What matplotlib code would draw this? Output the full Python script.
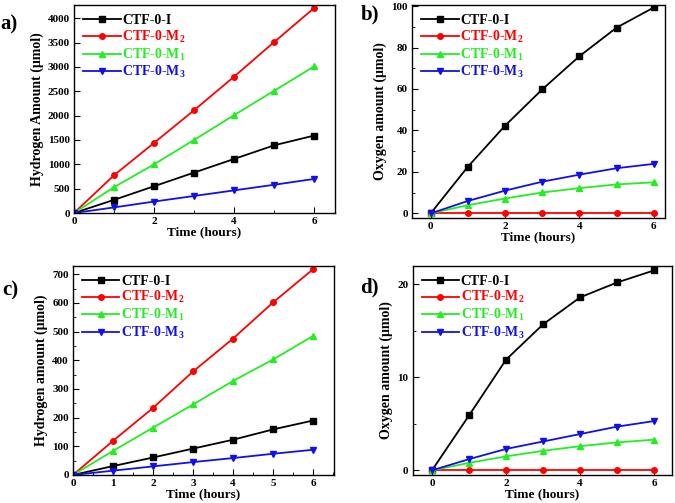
import matplotlib
matplotlib.use("Agg")
import matplotlib.pyplot as plt
from matplotlib.ticker import MultipleLocator

plt.rcParams['font.family'] = ['Liberation Serif', 'DejaVu Serif']
plt.rcParams['font.weight'] = 'bold'
plt.rcParams['mathtext.fontset'] = 'custom'
plt.rcParams['mathtext.rm'] = 'Liberation Serif:bold'
plt.rcParams['mathtext.it'] = 'Liberation Serif:bold'
plt.rcParams['mathtext.bf'] = 'Liberation Serif:bold'

# data
hours = [0, 1, 2, 3, 4, 5, 6]
names = ["CTF-0-I", "CTF-0-M$_2$", "CTF-0-M$_1$", "CTF-0-M$_3$"]

a_I = [0, 270, 550, 830, 1110, 1390, 1590]
a_M2 = [0, 775, 1440, 2110, 2800, 3510, 4210]
a_M1 = [0, 530, 1000, 1500, 2010, 2510, 3010]
a_M3 = [0, 115, 235, 350, 465, 580, 700]

b_I = [0, 22.5, 42.3, 59.8, 75.8, 89.6, 99.3]
b_M2 = [0, 0, 0, 0, 0, 0, 0]
b_M1 = [0, 4.0, 7.2, 10.1, 12.2, 14.0, 15.0]
b_M3 = [0, 6.0, 11.0, 15.3, 18.7, 21.8, 23.9]

c_I = [0, 31, 61, 92, 123, 159, 190]
c_M2 = [0, 119, 234, 361, 476, 602, 718]
c_M1 = [0, 84, 165, 246, 328, 403, 485]
c_M3 = [0, 15, 30, 45, 59, 74, 88]

d_I = [0, 5.9, 11.9, 15.7, 18.6, 20.2, 21.5]
d_M2 = [0, 0, 0, 0, 0, 0, 0]
d_M1 = [0, 0.8, 1.5, 2.1, 2.6, 3.0, 3.3]
d_M3 = [0, 1.2, 2.3, 3.1, 3.9, 4.7, 5.3]

colors = ["black", "#ff0000", "#22ee22", "#1010ee"]
markers = ["s", "o", "^", "v"]

fig = plt.figure(figsize=(6.75, 5.03), dpi=100)

panels = [
    ([0.1096, 0.5765, 0.3867, 0.4135], [a_I, a_M2, a_M1, a_M3], "Hydrogen Amount (\u03bcmol)",
     (0, 6.52), (0, 4270), 2, 1, 500, None),
    ([0.6104, 0.5666, 0.3748, 0.4235], [b_I, b_M2, b_M1, b_M3], "Oxygen amount (\u03bcmol)",
     (-0.5, 6.3), (-2.2, 100.5), 2, None, 20, 10),
    ([0.1081, 0.0557, 0.3867, 0.4161], [c_I, c_M2, c_M1, c_M3], "Hydrogen amount (\u03bcmol)",
     (0, 6.52), (0, 730), 1, 0.5, 100, 50),
    ([0.6114, 0.0557, 0.3837, 0.4161], [d_I, d_M2, d_M1, d_M3], "Oxygen amount (\u03bcmol)",
     (-0.52, 6.47), (-0.5, 22.0), 2, None, 10, 5),
]

for rect, series, ylab, xl, yl, xmaj, xmin, ymaj, ymin in panels:
    ax = fig.add_axes(rect)
    for s, name, c, m in zip(series, names, colors, markers):
        ax.plot(hours, s, color=c, marker=m, markersize=4, lw=1.3, label=name)
    ax.set_xlim(*xl)
    ax.set_ylim(*yl)
    ax.xaxis.set_major_locator(MultipleLocator(xmaj))
    if xmin:
        ax.xaxis.set_minor_locator(MultipleLocator(xmin))
    ax.yaxis.set_major_locator(MultipleLocator(ymaj))
    if ymin:
        ax.yaxis.set_minor_locator(MultipleLocator(ymin))
    ax.tick_params(which="both", direction="in", labelsize=8, pad=3)
    ax.tick_params(which="major", length=4)
    ax.tick_params(which="minor", length=2)
    ax.set_xlabel("Time (hours)", fontsize=9.5, fontweight="bold", labelpad=0)
    ax.set_ylabel(ylab, fontsize=10, fontweight="bold", labelpad=3)
    for sp in ax.spines.values():
        sp.set_linewidth(1.0)
    leg = ax.legend(loc="upper left", frameon=False, fontsize=10, handlelength=2.7,
                    handletextpad=0.1, labelspacing=0.12, borderaxespad=0.25)
    for t, c in zip(leg.get_texts(), colors):
        t.set_color(c)

fig.text(0.0, 0.952, "a)", fontsize=15, fontweight="bold", va="center")
fig.text(0.535, 0.972, "b)", fontsize=15, fontweight="bold", va="center")
fig.text(0.004, 0.423, "c)", fontsize=15, fontweight="bold", va="center")
fig.text(0.533, 0.429, "d)", fontsize=15, fontweight="bold", va="center")

fig.savefig("out.png", dpi=100)
